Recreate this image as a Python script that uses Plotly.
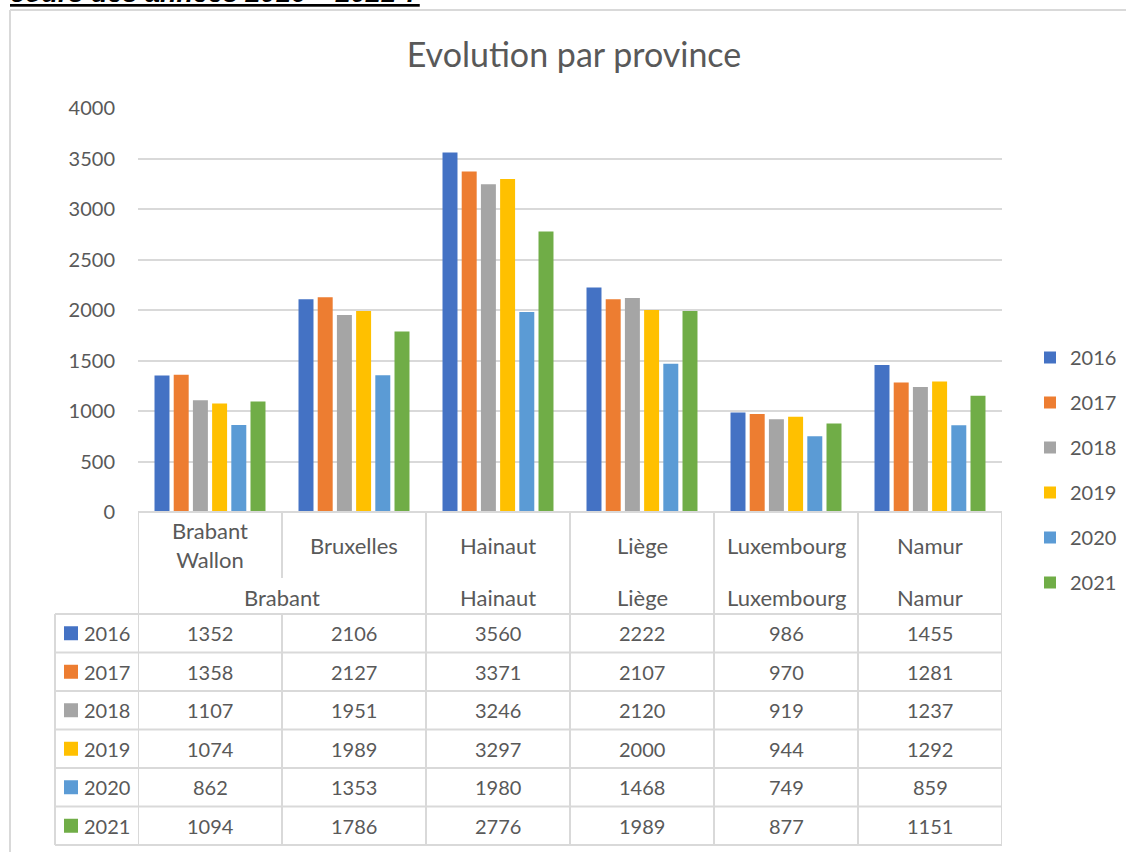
import plotly.graph_objects as go

# ---------------- data ----------------
provinces = ["Brabant Wallon", "Bruxelles", "Hainaut", "Liège", "Luxembourg", "Namur"]
province_labels = ["Brabant<br>Wallon", "Bruxelles", "Hainaut", "Liège", "Luxembourg", "Namur"]
group_labels = ["Brabant", "Hainaut", "Liège", "Luxembourg", "Namur"]
group_centers = [0.5, 2, 3, 4, 5]
years = ["2016", "2017", "2018", "2019", "2020", "2021"]
v2016 = [1352, 2106, 3560, 2222, 986, 1455]
v2017 = [1358, 2127, 3371, 2107, 970, 1281]
v2018 = [1107, 1951, 3246, 2120, 919, 1237]
v2019 = [1074, 1989, 3297, 2000, 944, 1292]
v2020 = [862, 1353, 1980, 1468, 749, 859]
v2021 = [1094, 1786, 2776, 1989, 877, 1151]
series = [v2016, v2017, v2018, v2019, v2020, v2021]
colors = ["#4472C4", "#ED7D31", "#A5A5A5", "#FFC000", "#5B9BD5", "#70AD47"]

# ---------------- layout geometry (pixels) ----------------
W, H = 1126, 852
L, R, T, B = 138, 1002, 108, 512
FONT = "Lato, Open Sans, sans-serif"
GREY = "#595959"
LINE = "#D9D9D9"


def px(x):
    return (x - L) / (R - L)


def py(y):
    return (B - y) / (B - T)


fig = go.Figure()
for yr, vals, col in zip(years, series, colors):
    fig.add_trace(go.Bar(
        x=provinces, y=vals, name=yr, legendgroup=yr,
        marker=dict(color=col, line=dict(width=0)),
    ))

shapes = []
annotations = []

# outer frame (partial, as in the screenshot)
shapes.append(dict(type="line", xref="paper", yref="paper",
                   x0=px(10), x1=px(10), y0=py(10), y1=py(H + 5),
                   line=dict(color=LINE, width=2)))
shapes.append(dict(type="line", xref="paper", yref="paper",
                   x0=px(10), x1=px(W + 5), y0=py(10), y1=py(10),
                   line=dict(color=LINE, width=2)))

# data table grid
row_tops = [614, 652.5, 691, 729.5, 768, 806.5, 845]


def hline(y, x0, x1):
    shapes.append(dict(type="line", xref="paper", yref="paper",
                       x0=px(x0), x1=px(x1), y0=py(y), y1=py(y),
                       line=dict(color=LINE, width=2)))


def vline_x(xd, y0, y1):
    shapes.append(dict(type="line", xref="x", yref="paper",
                       x0=xd, x1=xd, y0=py(y0), y1=py(y1),
                       line=dict(color=LINE, width=2)))


hline(B, L, R)
for yy in row_tops:
    hline(yy, 55, R)
# left legend column
shapes.append(dict(type="line", xref="paper", yref="paper",
                   x0=px(55), x1=px(55), y0=py(614), y1=py(845),
                   line=dict(color=LINE, width=2)))
vline_x(-0.5, B, 845)
vline_x(0.5, B, 578)
vline_x(0.5, 614, 845)
for k in range(1, 6):
    vline_x(k + 0.5, B, 845)

# category labels
for i, lab in enumerate(province_labels):
    annotations.append(dict(x=i, y=py(545), xref="x", yref="paper", text=lab,
                            showarrow=False, xanchor="center", yanchor="middle",
                            font=dict(family=FONT, size=22, color=GREY)))
for c, lab in zip(group_centers, group_labels):
    annotations.append(dict(x=c, y=py(597), xref="x", yref="paper", text=lab,
                            showarrow=False, xanchor="center", yanchor="middle",
                            font=dict(family=FONT, size=22, color=GREY)))

# table rows
for r, (yr, vals, col) in enumerate(zip(years, series, colors)):
    yc = (row_tops[r] + row_tops[r + 1]) / 2
    shapes.append(dict(type="rect", xref="paper", yref="paper",
                       x0=px(64), x1=px(78), y0=py(yc - 7), y1=py(yc + 7),
                       fillcolor=col, line=dict(width=0)))
    annotations.append(dict(x=px(82), y=py(yc), xref="paper", yref="paper", text=yr,
                            showarrow=False, xanchor="left", yanchor="middle",
                            font=dict(family=FONT, size=20, color=GREY)))
    for i, v in enumerate(vals):
        annotations.append(dict(x=i, y=py(yc), xref="x", yref="paper", text=str(v),
                                showarrow=False, xanchor="center", yanchor="middle",
                                font=dict(family=FONT, size=20, color=GREY)))

# clipped heading text at the very top
annotations.append(dict(x=px(8), y=py(10), xref="paper", yref="paper",
                        text="<b><i>cours des années 2016 – 2021 ?</i></b>",
                        showarrow=False, xanchor="left", yanchor="bottom",
                        font=dict(family="Liberation Sans, Arial", size=27, color="#000000",
                                  lineposition="under")))

fig.update_layout(
    width=W, height=H, autosize=False,
    margin=dict(l=L, r=W - R, t=T, b=H - B, pad=0, autoexpand=False),
    paper_bgcolor="white", plot_bgcolor="white",
    barmode="group", bargap=0.2, bargroupgap=0.22,
    title=dict(text="Evolution par province", x=574 / W, xref="container", xanchor="center",
               y=1 - 55 / H, yref="container", yanchor="middle",
               font=dict(family=FONT, size=34, color=GREY)),
    xaxis=dict(type="category", range=[-0.5, 5.5], showticklabels=False,
               showgrid=False, zeroline=False, showline=False, ticks=""),
    yaxis=dict(range=[0, 4000], dtick=500, showgrid=True, gridcolor=LINE, gridwidth=2,
               zeroline=False, showline=False, ticks="", ticklabelstandoff=22,
               tickfont=dict(family=FONT, size=20, color=GREY)),
    legend=dict(x=px(1030), xanchor="left", y=py(338), yanchor="top",
                font=dict(family=FONT, size=20, color=GREY), tracegroupgap=16,
                bgcolor="rgba(0,0,0,0)", itemwidth=30),
    shapes=shapes,
    annotations=annotations,
    showlegend=True,
)

fig.write_html(
    "out.html",
    config={"responsive": False, "displayModeBar": False},
    post_script=("document.documentElement.style.overflow='hidden';"
                 "document.body.style.overflow='hidden';"
                 "document.body.style.margin='0';document.body.style.padding='0';"),
)
